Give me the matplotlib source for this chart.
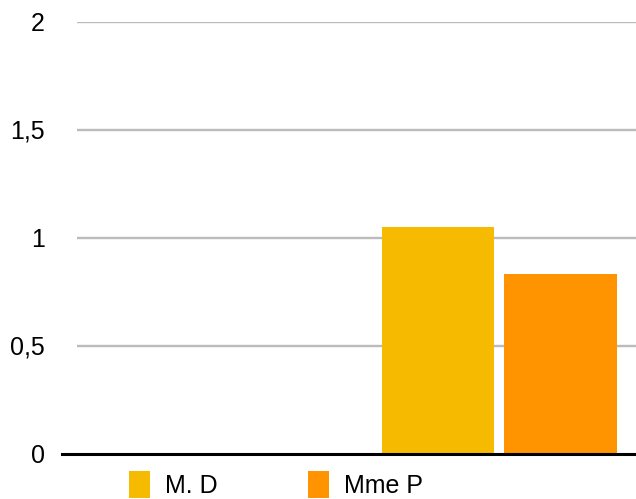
import numpy as np
import matplotlib.pyplot as plt

# données
categories = ['', '']
series = ['M. D', 'Mme P']
valeurs_md = [0, 1.05]
valeurs_mmep = [0, 0.83]
couleurs = ['#F6BA00', '#FF9400']
yticks = [0, 0.5, 1, 1.5, 2]
ytick_labels = ['0', '0,5', '1', '1,5', '2']

plt.rcParams['font.family'] = ['Liberation Sans', 'DejaVu Sans']

fig = plt.figure(figsize=(6.36, 4.99), dpi=100)
ax = fig.add_axes([77 / 636, 45.5 / 499, 563 / 636, 432 / 499])

x = np.arange(len(categories))
largeur = 0.40
ecart = 0.035
ax.bar(x - (largeur + ecart) / 2, valeurs_md, largeur, color=couleurs[0], label=series[0], zorder=3)
ax.bar(x + (largeur + ecart) / 2, valeurs_mmep, largeur, color=couleurs[1], label=series[1], zorder=3)

ax.set_xlim(-0.5, 1.5)
ax.set_ylim(0, 2)
ax.set_yticks(yticks)
ax.set_yticklabels(ytick_labels, fontsize=18)
ax.set_xticks([])
ax.tick_params(axis='y', length=0, pad=23)

for s in ax.spines.values():
    s.set_visible(False)
for yv in yticks[1:]:
    ax.axhline(yv, color='#BBBBBB', lw=1.7, zorder=1)
# ligne de base
ax.plot([-0.027, 1], [0, 0], transform=ax.get_yaxis_transform(), color='black',
        lw=2.2, clip_on=False, zorder=4)

fig.legend(loc='lower left', bbox_to_anchor=(119 / 636, -9 / 499), ncol=2, frameon=False,
           fontsize=18, handlelength=0.85, handleheight=1.3, handletextpad=0.6,
           columnspacing=3.6, borderaxespad=0)

fig.savefig('out.png', dpi=100)
